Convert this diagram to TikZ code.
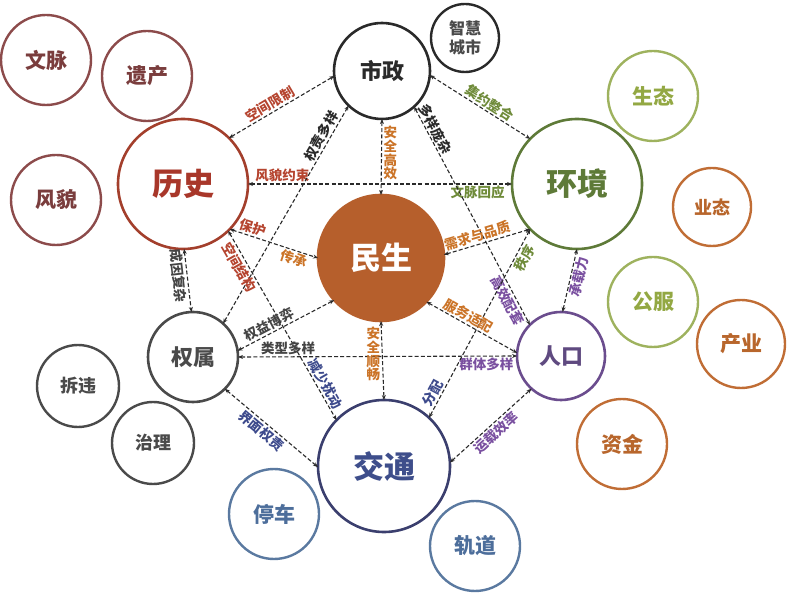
\documentclass[tikz,border=0pt]{standalone}
\usepackage{fontspec}
\setmainfont{Noto Sans CJK SC}
\usepackage{xcolor}
\usepackage{tikz}
\usetikzlibrary{arrows.meta}
\definecolor{histred}{HTML}{A33F2C}
\definecolor{histtxt}{HTML}{A8372A}
\definecolor{histsat}{HTML}{8C4B4B}
\definecolor{histsattxt}{HTML}{7A3D3D}
\definecolor{envgreen}{HTML}{5E7A38}
\definecolor{envlight}{HTML}{9EB25E}
\definecolor{envlighttxt}{HTML}{93A843}
\definecolor{ochre}{HTML}{C06D35}
\definecolor{ochretxt}{HTML}{B8662C}
\definecolor{livfill}{HTML}{B65F2C}
\definecolor{popviolet}{HTML}{6B4D8E}
\definecolor{poptxt}{HTML}{5F4A80}
\definecolor{trafnavy}{HTML}{3B3F6E}
\definecolor{traftxt}{HTML}{3E4E8B}
\definecolor{steel}{HTML}{5A79A0}
\definecolor{steeltxt}{HTML}{4D6E9B}
\definecolor{ink}{HTML}{2A2A2A}
\definecolor{slate}{HTML}{4A4A4A}
\definecolor{tagred}{HTML}{B5442F}
\definecolor{taggreen}{HTML}{6F8B3A}
\definecolor{tagorange}{HTML}{CB7428}
\definecolor{tagviolet}{HTML}{7A50A0}
\definecolor{tagnavy}{HTML}{3D4A8C}
\definecolor{taggray}{HTML}{444444}
\tikzset{
  hub/.style={circle,draw,line width=2.6pt,outer sep=0pt,inner sep=0pt,
              font=\bfseries\fontsize{31}{31}\selectfont},
  midhub/.style={hub,font=\bfseries\fontsize{22}{22}\selectfont},
  sat/.style={circle,draw,line width=2.4pt,outer sep=0pt,inner sep=0pt,
              minimum size=90pt,font=\bfseries\fontsize{21}{21}\selectfont},
  smallsat/.style={sat,font=\bfseries\fontsize{18}{18}\selectfont},
  link/.style={{Stealth[length=5pt,width=4pt]}-{Stealth[length=5pt,width=4pt]},
               ink,line width=1.1pt,dash pattern=on 4pt off 2.2pt},
  tag/.style={sloped,inner sep=1.5pt,font=\bfseries\fontsize{13.5}{13.5}\selectfont},
  stack/.style={inner sep=1.5pt,align=center,
                font=\bfseries\fontsize{13.5}{13.6}\selectfont}
}
\begin{document}
\begin{tikzpicture}[x=1pt,y=1pt]
  \useasboundingbox (0,0) rectangle (787,592);
  % History
  \node[hub,draw=histred,text=histtxt,minimum size=130pt] (lishi) at (183,408) {历史};
  \node[sat,draw=histsat,text=histsattxt] (wenmai) at (46,532) {文脉};
  \node[sat,draw=histsat,text=histsattxt] (yichan) at (147,516) {遗产};
  \node[sat,draw=histsat,text=histsattxt] (fengmao) at (56,392) {风貌};
  % Municipal
  \node[midhub,draw=ink,text=ink,minimum size=96pt] (shizheng) at (382,521) {市政};
  \node[sat,draw=ink,text=ink!85,minimum size=68pt,align=center,
        font=\bfseries\fontsize{16}{19}\selectfont] (zhihui) at (465,554) {智慧\\城市};
  % Environment
  \node[hub,draw=envgreen,text=envgreen,minimum size=130pt] (huanjing) at (577,408) {环境};
  \node[sat,draw=envlight,text=envlighttxt] (shengtai) at (653,496) {生态};
  \node[sat,draw=envlight,text=envlighttxt] (gongfu) at (653,290) {公服};
  \node[smallsat,draw=ochre,text=ochretxt,minimum size=78pt] (yetai) at (712,385) {业态};
  \node[sat,draw=ochre,text=ochretxt,minimum size=88pt] (chanye) at (741,248) {产业};
  \node[sat,draw=ochre,text=ochretxt] (zijin) at (622,148) {资金};
  % Livelihood
  \node[hub,draw=livfill,fill=livfill,text=white,minimum size=126pt] (minsheng) at (381,334) {民生};
  % Population
  \node[midhub,draw=popviolet,text=poptxt,minimum size=88pt] (renkou) at (561,236) {人口};
  % Traffic
  \node[hub,draw=trafnavy,text=traftxt,minimum size=132pt] (jiaotong) at (384,126) {交通};
  \node[sat,draw=steel,text=steeltxt] (tingche) at (274,78) {停车};
  \node[sat,draw=steel,text=steeltxt] (guidao) at (475,46) {轨道};
  % Property
  \node[midhub,draw=slate,text=slate,minimum size=90pt] (quanshu) at (193,235) {权属};
  \node[smallsat,draw=slate,text=slate,minimum size=82pt] (chaiwei) at (78,206) {拆违};
  \node[smallsat,draw=slate,text=slate,minimum size=82pt] (zhili) at (153,149) {治理};
  % Links
  \draw[link] (lishi.45) -- node[tag,above,pos=0.43,text=tagred]{空间限制} (shizheng.186);
  \draw[link] (lishi.east) -- node[tag,above,pos=0.13,text=tagred]{风貌约束}
    node[tag,below,pos=0.87,text=taggreen]{文脉回应} (huanjing.west);
  \draw[link] (shizheng.south) -- node[stack,right,pos=0.45,text=tagorange]{安\\全\\高\\效} (minsheng.north);
  \draw[link] (shizheng.-5) -- node[tag,above,pos=0.55,text=taggreen]{集约整合} (huanjing.136);
  \draw[link] (quanshu.48) -- node[tag,above,pos=0.84,text=ink]{权责多样} (shizheng.226);
  \draw[link] (shizheng.312) -- node[tag,above,pos=0.12,text=ink]{多样庞杂}
    node[tag,below,pos=0.87,text=tagviolet]{高效配套} (renkou.135);
  \draw[link] (lishi.-44) -- node[tag,above,pos=0.23,text=tagred]{保护}
    node[tag,below,pos=0.76,text=tagorange]{传承} (minsheng.west);
  \draw[link] (lishi.-46) -- node[tag,below,pos=0.17,text=tagred]{空间结构}
    node[tag,above,pos=0.83,text=tagnavy]{减少扰动} (jiaotong.136);
  \draw[link] (lishi.-89) -- node[tag,below,pos=0.41,text=taggray]{成因复杂} (quanshu.92);
  \draw[link] (quanshu.8) -- node[tag,above,pos=0.37,text=taggray]{权益博弈} (minsheng.222);
  \draw[link] (quanshu.east) -- node[tag,above,pos=0.18,text=taggray]{类型多样}
    node[tag,below,pos=0.89,text=tagviolet]{群体多样} (renkou.west);
  \draw[link] (minsheng.south) -- node[stack,left,pos=0.42,text=tagorange]{安\\全\\顺\\畅} (jiaotong.north);
  \draw[link] (quanshu.-45) -- node[tag,below,pos=0.45,text=tagnavy]{界面权责} (jiaotong.181);
  \draw[link] (minsheng.3) -- node[tag,above,pos=0.42,text=tagorange]{需求与品质} (huanjing.224);
  \draw[link] (jiaotong.47) -- node[tag,above,pos=0.11,text=tagnavy]{分配}
    node[tag,below,pos=0.87,text=taggreen]{秩序} (huanjing.224);
  \draw[link] (renkou.88) -- node[tag,below,pos=0.59,text=tagviolet]{承载力} (huanjing.-90);
  \draw[link] (minsheng.-44) -- node[tag,above,pos=0.42,text=tagorange]{服务适配} (renkou.176);
  \draw[link] (jiaotong.3) -- node[tag,below,pos=0.49,text=tagviolet]{运载效率} (renkou.228);
\end{tikzpicture}
\end{document}
